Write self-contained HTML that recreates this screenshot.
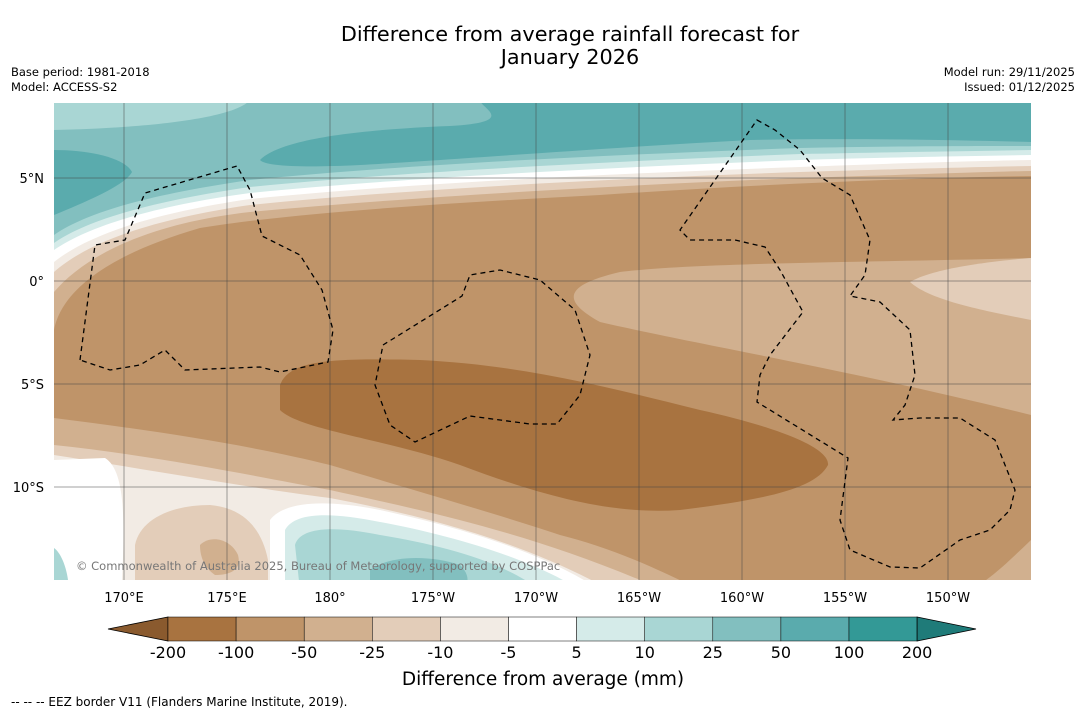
<!DOCTYPE html>
<html><head><meta charset="utf-8"><style>
body{margin:0;background:#fff;font-family:"DejaVu Sans",sans-serif;}
svg text{font-family:"DejaVu Sans",sans-serif;}
</style></head><body>
<svg id="s" width="1085" height="713" viewBox="0 0 1085 713">
<rect width="1085" height="713" fill="#fff"/>
<text x="570" y="41" font-size="20.8" text-anchor="middle">Difference from average rainfall forecast for</text>
<text x="570" y="64" font-size="20.8" text-anchor="middle">January 2026</text>
<text x="11" y="76" font-size="11.5">Base period: 1981-2018</text>
<text x="11" y="91" font-size="11.5">Model: ACCESS-S2</text>
<text x="1075" y="76" font-size="11.5" text-anchor="end">Model run: 29/11/2025</text>
<text x="1075" y="91" font-size="11.5" text-anchor="end">Issued: 01/12/2025</text>
<defs><clipPath id="mc"><rect x="54" y="103" width="977" height="477"/></clipPath></defs>
<g clip-path="url(#mc)">
<rect x="54" y="103" width="977" height="477" fill="#d1b08f"/>
<path fill="#bf9469" d="M54,330 C60,300 90,260 200,228 C300,212 450,203 600,195 C750,185 900,178 1031,176 L1031,258 C900,262 700,262 620,272 C565,285 560,300 600,322 C700,345 850,370 1031,415 L1031,540 C1010,560 990,580 970,590 L700,590 C640,560 600,545 560,535 C500,515 430,495 330,465 C250,445 150,430 54,418 Z"/>
<path fill="#e3cdb9" d="M1031,258 C980,262 930,270 910,282 C930,300 980,310 1031,320 Z"/>
<path fill="#a87340" d="M280,385 C290,360 330,358 420,360 C520,365 600,385 700,410 C790,430 830,450 828,465 C815,490 760,500 680,510 C610,515 540,495 460,465 C390,440 300,430 280,410 Z"/>
<path fill="#e3cdb9" d="M54,445 C150,455 250,475 330,490 C420,510 520,530 640,580 L54,590 Z"/>
<path fill="#f2ebe4" d="M54,455 C150,470 250,488 330,498 C420,515 520,540 610,590 L54,590 Z"/>
<path fill="#e3cdb9" d="M135,545 C140,520 170,505 210,505 C245,508 262,530 268,560 L268,590 L135,590 Z"/>
<path fill="#d1b08f" d="M200,545 C210,535 230,538 238,555 C242,570 230,575 215,575 C205,568 200,558 200,545 Z"/>
<path fill="#fff" d="M270,520 C285,500 330,500 380,510 C450,525 540,550 600,590 L270,590 Z"/>
<path fill="#fff" d="M54,460 L105,458 C125,470 125,520 122,580 L54,590 Z"/>
<path fill="#d5ebe9" d="M285,530 C295,512 330,512 380,522 C450,535 530,558 580,590 L285,590 Z"/>
<path fill="#a9d6d4" d="M295,545 C300,528 330,525 380,535 C440,545 500,560 540,590 L300,590 Z"/>
<path fill="#82bfbf" d="M370,570 C390,555 430,555 460,565 C470,575 470,585 460,590 L370,590 Z"/>
<path fill="#a9d6d4" d="M54,548 C60,552 66,565 68,580 L54,590 Z"/>
<path fill="#e3cdb9" d="M54,292 C90,250 160,222 250,212 C400,198 600,186 800,178 C900,175 980,172 1031,171 L1031,100 L54,100 Z"/>
<path fill="#f2ebe4" d="M54,272 C90,240 160,218 250,205 C400,190 600,179 800,172 C900,169 980,167 1031,166 L1031,100 L54,100 Z"/>
<path fill="#fff" d="M54,262 C90,233 160,212 250,199 C400,184 600,174 800,167 C900,163 980,161 1031,160 L1031,100 L54,100 Z"/>
<path fill="#d5ebe9" d="M54,250 C90,225 160,205 250,193 C400,178 600,168 800,160 C900,157 980,156 1031,155 L1031,100 L54,100 Z"/>
<path fill="#a9d6d4" d="M54,243 C90,218 160,200 250,187 C400,172 600,162 800,154 C900,152 980,151 1031,150 L1031,100 L54,100 Z"/>
<path fill="#82bfbf" d="M54,235 C90,210 160,193 250,180 C400,165 600,155 800,148 C900,146 980,146 1031,146 L1031,100 L54,100 Z"/>
<path fill="#a9d6d4" d="M54,100 L250,100 C235,118 150,128 54,130 Z"/>
<path fill="#5aabad" d="M260,160 C280,140 350,130 450,126 C520,122 480,108 480,100 L1031,100 L1031,142 C950,140 850,138 750,140 C600,148 450,160 360,165 C300,168 265,166 260,160 Z"/>
<path fill="#5aabad" d="M54,150 C90,150 125,158 132,172 C125,185 90,200 54,215 Z"/>
<g stroke="#444" stroke-width="0.5" id="grid"></g>
<g fill="none" stroke="#000" stroke-width="1.3" stroke-dasharray="5,4">
<path d="M80,360 L95,245 L125,240 L145,193 L237,166 L250,190 L262,236 L300,255 L322,290 L333,330 L328,362 L280,372 L260,367 L185,370 L165,350 L140,365 L110,370 Z"/>
<path d="M383,345 L462,296 L470,275 L500,270 L540,280 L575,310 L590,355 L580,395 L557,424 L530,424 L470,416 L415,442 L390,425 L375,385 Z"/>
<path d="M757,120 L775,130 L800,150 L822,178 L850,195 L870,240 L865,275 L850,296 L880,302 L910,330 L915,375 L905,405 L893,420 L920,418 L960,418 L995,440 L1015,490 L1010,510 L990,530 L960,540 L920,568 L890,567 L850,550 L840,520 L848,458 L757,402 L760,375 L770,355 L803,312 L780,270 L765,247 L735,240 L690,240 L680,230 Z"/>
</g>
<text x="76" y="570" font-size="11.5" fill="#777">© Commonwealth of Australia 2025, Bureau of Meteorology, supported by COSPPac</text>
</g>
<g id="axes"></g>
<g id="cbar"></g>
<text x="543" y="685" font-size="18.5" text-anchor="middle">Difference from average (mm)</text>
<text x="11" y="706" font-size="12">-- -- -- EEZ border V11 (Flanders Marine Institute, 2019).</text>
</svg>
<script>
const lonLabels=["170°E","175°E","180°","175°W","170°W","165°W","160°W","155°W","150°W"];
const lonValues=[170,175,180,185,190,195,200,205,210];
const latLabels=["5°N","0°","5°S","10°S"];
const latValues=[5,0,-5,-10];
const levelLabels=["-200","-100","-50","-25","-10","-5","5","10","25","50","100","200"];
const levelColors=["#a87340","#bf9469","#d1b08f","#e3cdb9","#f2ebe4","#ffffff","#d5ebe9","#a9d6d4","#82bfbf","#5aabad","#339996"];
const underColor="#8a5a2e", overColor="#1f7b79";
const NS="http://www.w3.org/2000/svg";
const xLon=v=>124+(v-170)*20.6;
const yLat=v=>281-v*20.6;
const grid=document.getElementById('grid'),axes=document.getElementById('axes'),cb=document.getElementById('cbar');
function mk(tag,at,parent){const e=document.createElementNS(NS,tag);for(const k in at)e.setAttribute(k,at[k]);parent.appendChild(e);return e;}
lonValues.forEach((v,i)=>{
 const l=mk('line',{x1:xLon(v),x2:xLon(v),y1:103,y2:580},grid);
 
 
 const t=mk('text',{x:xLon(v),y:602,'font-size':13,'text-anchor':'middle'},axes);t.textContent=lonLabels[i];
 
 
});
latValues.forEach((v,i)=>{
 const l=mk('line',{x1:54,x2:1031,y1:yLat(v),y2:yLat(v)},grid);
 
 
 const t=mk('text',{x:44,y:yLat(v)+5,'font-size':13,'text-anchor':'end'},axes);t.textContent=latLabels[i];
 
 
});
const cx0=168,cw=68.1,cy=617,ch=24;
const under=mk('polygon',{points:`108,${cy+ch/2} ${cx0},${cy} ${cx0},${cy+ch}`,fill:underColor,stroke:'#000','stroke-width':0.8},cb);


levelColors.forEach((c,i)=>{
 const r=mk('rect',{x:cx0+i*cw,y:cy,width:cw,height:ch,fill:c,stroke:'#000','stroke-width':0.5},cb);
 
 
});
const xe=cx0+levelColors.length*cw;
const over=mk('polygon',{points:`${xe},${cy} 976,${cy+ch/2} ${xe},${cy+ch}`,fill:overColor,stroke:'#000','stroke-width':0.8},cb);


levelLabels.forEach((s,i)=>{
 const t=mk('text',{x:cx0+i*cw,y:658,'font-size':16,'text-anchor':'middle'},cb);t.textContent=s;
 
 
});
</script>
</body></html>
